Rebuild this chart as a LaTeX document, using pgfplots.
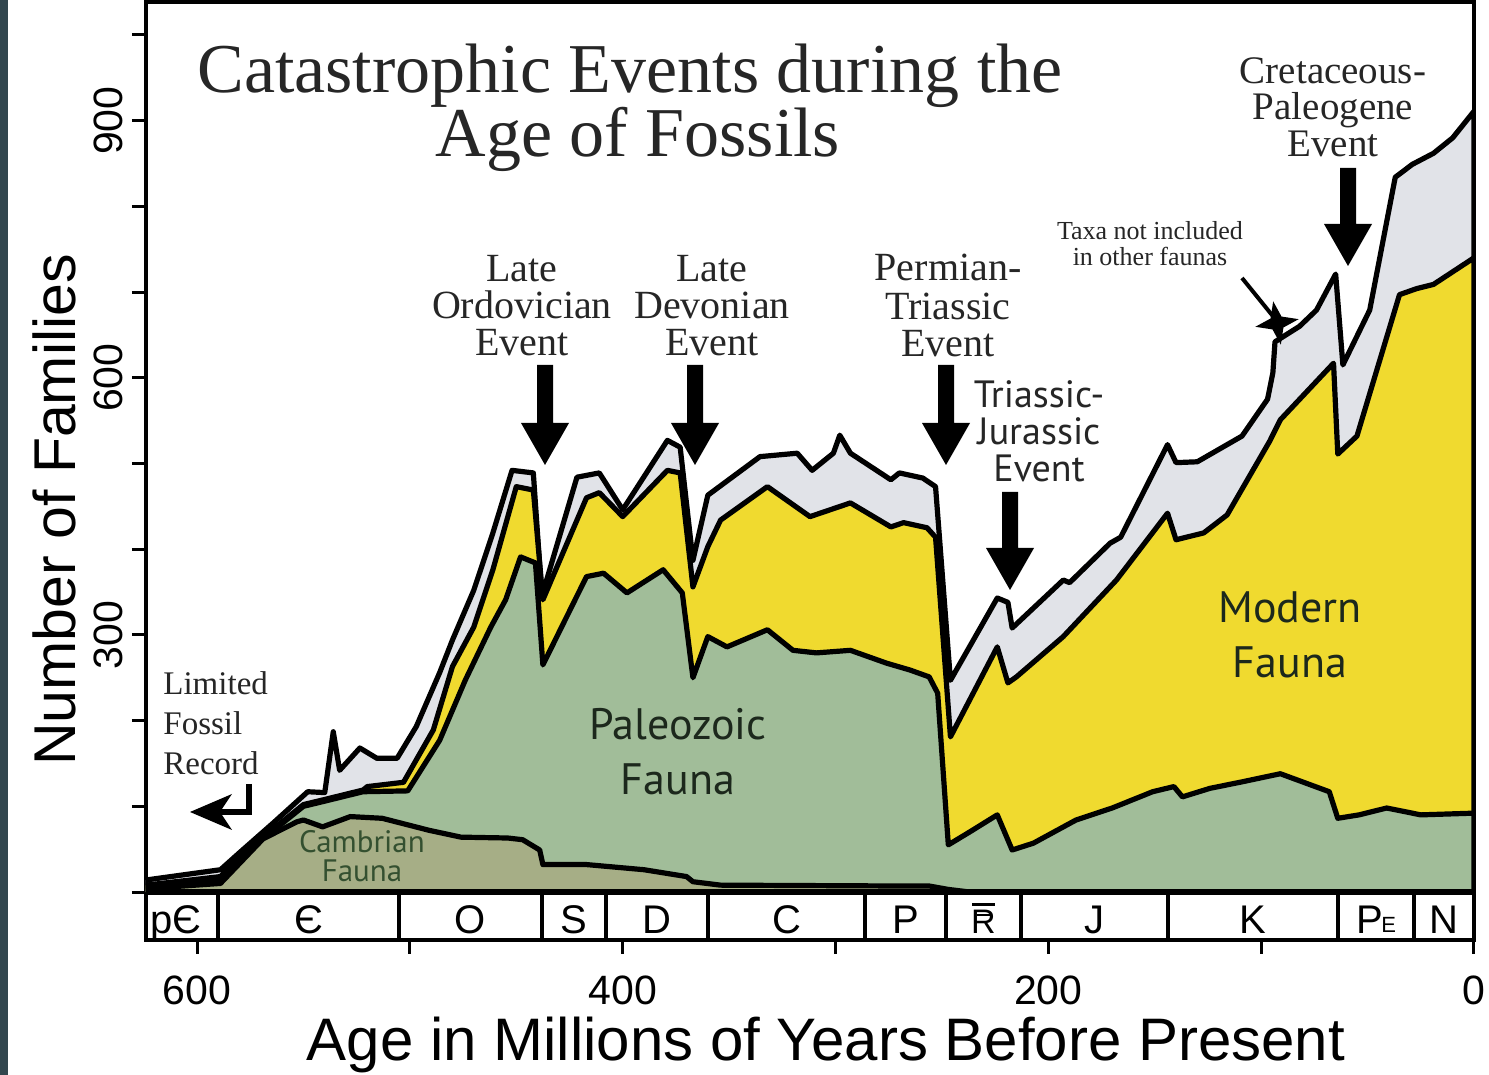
\documentclass[border=0pt]{standalone}
\usepackage{fontspec}
\setmainfont{Liberation Serif}
\newfontfamily\arial{Liberation Sans}
\newfontfamily\myriad{PT Sans}
\usepackage{pgfplots}
\usepackage{pgfplotstable}
\pgfplotsset{compat=1.18}
\usetikzlibrary{shapes.geometric}
\definecolor{cgray}{RGB}{225,227,232}
\definecolor{cyellow}{RGB}{240,218,47}
\definecolor{cgreen}{RGB}{161,189,153}
\definecolor{colive}{RGB}{166,174,134}
\definecolor{cstrip}{RGB}{50,70,78}
\definecolor{ctext}{RGB}{38,38,38}
\definecolor{ccamb}{RGB}{52,80,48}
\definecolor{cfauna}{RGB}{28,40,28}
\newcommand\fs[1]{\fontsize{#1}{#1}\selectfont}

% Total number of families (top of the grey "other taxa" band)
\pgfplotstableread{
x y
624 0
624 14
589 26
580 46
564 81
548 117
540 116
536 187
533 142
523.5 168
515.5 156
506 156
497 193
486 256
480 294
470 352
461 419
452 492
442 489
438 345
421.5 484
411 489
400 446
379 527
373 519
367 387
360 463
335.5 508
318 512
311 492
301 512
298 533
293 512
274 481
270 489
259 483
253 473
246 247
224 343
219 338
217 308
193 364
190 361
171 407
166 414
144 522
140 501
130 502
109 532
97 575
94.5 606
93.5 642
82 660
74 679
65 721
61.6 615
49 679
37 834
29 849
19 862
10 880
0 911
0 0
}\totaltab

% Cumulative top of Modern fauna
\pgfplotstableread{
x y
624 0
624 8
589 18
570 66
562 78
550 102
540 108
522 119
520 123
503 128
489 189
480 263
470 309
461 376
450 473
442 469
437.5 341
417 460
411 466
400 438
379 492
373 489
367 356
360 403
354 434
332 473
312 438
293 454
274 426
268 431
257 425
253 414
246 181
224 286
219 244
215 251
193 298
168 364
144 442
140 411
127 419
116 440
96 526
91 551
66 617
64 511
55 532
35 697
27 704
19 709
0 740
0 0
}\moderntab

% Cumulative top of Paleozoic fauna
\pgfplotstableread{
x y
624 0
624 7
589 15
570 64
562 76
550 100
540 106
522 117
501 118
486 177
474 247
462 309
455 341
448 391
441 384
437.5 265
417 368
409 372
398 349
381 376
372 349
367 250
360 298
351 286
332 306
320 282
309 279
293 282
276 267
265 259
256 251
252 232
247 55
237 70
224 90
217 49
207 57
187 84
170 98
151 117
141 123
137 111
124 121
110 128
91 138
68 117
64 86
54 90
41 98
25 90
0 92
0 0
}\paleotab

% Cambrian fauna
\pgfplotstableread{
x y
624 0
624 4
589 10
569 62
553 82
550 84
541 76
528 88
513 86
491 72
476 64
454 63
447 61
439 49
437.5 32
417 32
390 26
370 18
367 12
354 8
270 7
256 7
247 3
237 0
}\cambtab

\newcommand\evarrow[3]{\fill[black] (#1-8,#2) -- (#1+8,#2) -- (#1+8,#3-42) -- (#1+24,#3-42) -- (#1,#3) -- (#1-24,#3-42) -- (#1-8,#3-42) -- cycle;}

\begin{document}
\begin{tikzpicture}
\useasboundingbox (0,0) rectangle (744.5pt,537.5pt);
\fill[white] (0,0) rectangle (744.5pt,537.5pt);
\begin{axis}[
  at={(73pt,67.5pt)}, anchor=south west,
  scale only axis, width=664pt, height=469pt,
  xmin=0, xmax=624, x dir=reverse,
  ymin=-56, ymax=1038.5,
  axis line style={line width=2pt, black},
  xtick={0,100,...,600}, xticklabels={0,,200,,400,,600},
  ytick={0,100,...,1000}, yticklabels={,,,300,,,600,,,900,},
  xtick pos=left, ytick pos=left,
  tick align=outside, major tick length=7pt,
  tick style={line width=1.5pt, black},
  xticklabel style={font=\arial\fs{20.5}, inner sep=0pt, anchor=north, yshift=-10.5pt},
  yticklabel style={font=\arial\fs{20.5}, inner sep=0pt, xshift=-4.5pt, rotate=90, anchor=south},
  no markers,
]
\addplot[fill=cgray, draw=black, line width=2.6pt, line join=round] table[x=x,y=y] {\totaltab} \closedcycle;
\addplot[fill=cyellow, draw=black, line width=2.6pt, line join=round] table[x=x,y=y] {\moderntab} \closedcycle;
\addplot[fill=cgreen, draw=black, line width=2.6pt, line join=round] table[x=x,y=y] {\paleotab} \closedcycle;
\addplot[fill=colive, draw=black, line width=2.6pt, line join=round] table[x=x,y=y] {\cambtab} \closedcycle;
% geologic period bar
\draw[line width=2.6pt] (axis cs:624,0) -- (axis cs:0,0);
\pgfplotsinvokeforeach{590,505,438,408,360,286,248,213,144,64,28}{
  \draw[line width=2pt] (axis cs:#1,0) -- (axis cs:#1,-56);
}
\begin{scope}[every node/.style={font=\arial\fs{20}, anchor=base, inner sep=0pt}]
\node at (axis cs:610,-48) {pЄ};
\node at (axis cs:547.5,-48) {Є};
\node at (axis cs:471.5,-48) {O};
\node at (axis cs:423,-48) {S};
\node at (axis cs:384,-48) {D};
\node at (axis cs:323,-48) {C};
\node at (axis cs:267,-48) {P};
\node at (axis cs:230.5,-48) {\fs{17}\makebox[0pt]{\raisebox{0.8em}{\rule{0.66em}{0.085em}}}\makebox[0pt]{\raisebox{0.5em}{\rule{0.4em}{0.07em}}}\makebox[0pt]{R}};
\node at (axis cs:178.5,-48) {J};
\node at (axis cs:104,-48) {K};
\node at (axis cs:46,-48) {P\kern-0.04em\raisebox{0.02em}{\fs{11}E}};
\node at (axis cs:14,-48) {N};
\end{scope}
\end{axis}

\begin{scope}[x=0.5pt,y=-0.5pt,yshift=537.5pt]
\fill[cstrip] (0,0) rectangle (8,1075);
% title
\node[anchor=base, font=\fs{35}, text=ctext] at (630,93) {Catastrophic Events during the};
\node[anchor=base, font=\fs{35}, text=ctext] at (638,157) {Age of Fossils};
% axis titles
\node[anchor=base, font=\arial\fs{30}] at (826,1061) {Age in Millions of Years Before Present};
\node[anchor=base, rotate=90, font=\arial\fs{29.5}] at (75,510) {Number of Families};
% event labels
\begin{scope}[every node/.style={anchor=base, font=\fs{20}, text=ctext, inner sep=0pt}]
\node at (522,282) {Late};
\node at (522,319) {Ordovician};
\node at (522,356) {Event};
\node at (712,282) {Late};
\node at (712,319) {Devonian};
\node at (712,356) {Event};
\node at (948,281) {Permian-};
\node at (948,320) {Triassic};
\node at (948,357) {Event};
\end{scope}
\begin{scope}[every node/.style={anchor=base, font=\fs{19.5}, text=ctext, inner sep=0pt}]
\node at (1333,84) {Cretaceous-};
\node at (1333,120) {Paleogene};
\node at (1333,157) {Event};
\end{scope}
\begin{scope}[every node/.style={anchor=base, font=\myriad\fs{19}, text=ctext, inner sep=0pt}]
\node at (1039,408) {Triassic-};
\node at (1039,445) {Jurassic};
\node at (1039,482) {Event};
\end{scope}
\node[anchor=base, font=\fs{13}, text=ctext, inner sep=0pt] at (1150,240) {Taxa not included};
\node[anchor=base, font=\fs{13}, text=ctext, inner sep=0pt] at (1150,266) {in other faunas};
\begin{scope}[every node/.style={anchor=base west, font=\fs{16.5}, text=ctext, inner sep=0pt}]
\node at (163,695) {Limited};
\node at (163,735) {Fossil};
\node at (163,775) {Record};
\end{scope}
% fauna labels
\begin{scope}[every node/.style={anchor=base, font=\myriad\fs{22}, text=cfauna, inner sep=0pt}]
\node at (678,740) {Paleozoic};
\node at (678,795) {Fauna};
\node at (1290,623) {Modern};
\node at (1290,678) {Fauna};
\end{scope}
\node[anchor=base, font=\myriad\fs{15.5}, text=ccamb, inner sep=0pt] at (362,853) {Cambrian};
\node[anchor=base, font=\myriad\fs{15.5}, text=ccamb, inner sep=0pt] at (362,882) {Fauna};
% arrows
\evarrow{545}{365}{465}
\evarrow{695}{365}{465}
\evarrow{946}{365}{465}
\evarrow{1010}{492}{590}
\evarrow{1348}{168}{266}
\draw[line width=2pt] (1242,278) -- (1276,320);
\node[star, star points=4, star point ratio=2.8, fill=black, inner sep=0pt, minimum size=22pt, rotate=10] at (1277,323) {};
\draw[line width=2.6pt] (249,784) -- (249,812) -- (218,812);
\fill (190,812) -- (232,794) -- (220,812) -- (232,830) -- cycle;
\end{scope}
\end{tikzpicture}
\end{document}
